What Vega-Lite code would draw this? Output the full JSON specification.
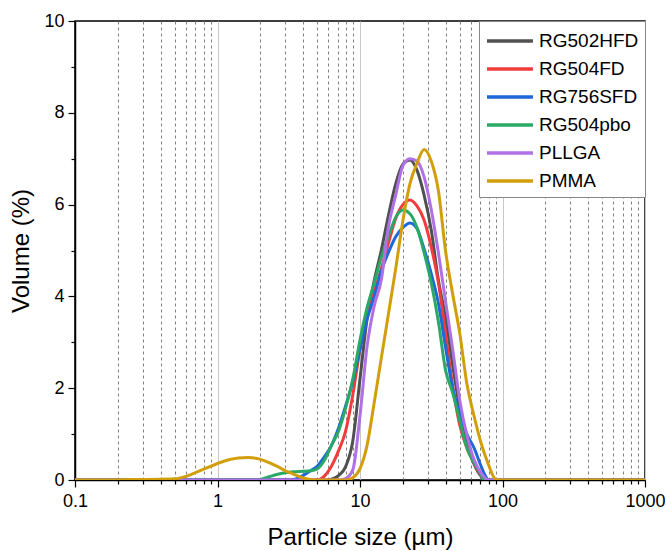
{
  "$schema": "https://vega.github.io/schema/vega-lite/v6.json",
  "width": 570,
  "height": 459,
  "autosize": {"type": "none"},
  "padding": {"left": 75, "top": 21, "right": 21, "bottom": 71},
  "background": "white",
  "config": {
    "view": {"stroke": "black", "strokeWidth": 1.5},
    "font": "Liberation Sans",
    "axis": {
      "domainColor": "black",
      "domainWidth": 1.5,
      "tickColor": "black",
      "tickWidth": 1.2,
      "labelFont": "Liberation Sans",
      "labelFontSize": 18,
      "labelColor": "black",
      "titleFont": "Liberation Sans",
      "titleFontSize": 24,
      "titleFontWeight": "normal",
      "titleColor": "black"
    },
    "legend": {
      "labelFont": "Liberation Sans",
      "labelFontSize": 19,
      "labelColor": "black"
    }
  },
  "data": {
    "values": [
      {"series": "RG502HFD", "size": 0.1, "vol": 0},
      {"series": "RG502HFD", "size": 5.6, "vol": 0},
      {"series": "RG502HFD", "size": 6.3, "vol": 0.02},
      {"series": "RG502HFD", "size": 7.1, "vol": 0.1},
      {"series": "RG502HFD", "size": 7.9, "vol": 0.28},
      {"series": "RG502HFD", "size": 8.9, "vol": 0.85},
      {"series": "RG502HFD", "size": 10, "vol": 2.2},
      {"series": "RG502HFD", "size": 11.2, "vol": 3.5},
      {"series": "RG502HFD", "size": 12.6, "vol": 4.35},
      {"series": "RG502HFD", "size": 14.1, "vol": 5.0},
      {"series": "RG502HFD", "size": 15.8, "vol": 5.75},
      {"series": "RG502HFD", "size": 17.8, "vol": 6.45},
      {"series": "RG502HFD", "size": 20, "vol": 6.88},
      {"series": "RG502HFD", "size": 22.4, "vol": 6.97},
      {"series": "RG502HFD", "size": 25.1, "vol": 6.75},
      {"series": "RG502HFD", "size": 28.2, "vol": 6.2},
      {"series": "RG502HFD", "size": 31.6, "vol": 5.45},
      {"series": "RG502HFD", "size": 35.5, "vol": 4.35},
      {"series": "RG502HFD", "size": 39.8, "vol": 3.55},
      {"series": "RG502HFD", "size": 44.7, "vol": 2.5},
      {"series": "RG502HFD", "size": 50.1, "vol": 1.55},
      {"series": "RG502HFD", "size": 56.2, "vol": 0.78},
      {"series": "RG502HFD", "size": 63.1, "vol": 0.35},
      {"series": "RG502HFD", "size": 70.8, "vol": 0.08},
      {"series": "RG502HFD", "size": 79.4, "vol": 0},
      {"series": "RG502HFD", "size": 1000, "vol": 0},

      {"series": "RG504FD", "size": 0.1, "vol": 0},
      {"series": "RG504FD", "size": 5.0, "vol": 0},
      {"series": "RG504FD", "size": 5.6, "vol": 0.08},
      {"series": "RG504FD", "size": 6.3, "vol": 0.3},
      {"series": "RG504FD", "size": 7.1, "vol": 0.65},
      {"series": "RG504FD", "size": 7.9, "vol": 1.05},
      {"series": "RG504FD", "size": 8.9, "vol": 1.85},
      {"series": "RG504FD", "size": 10, "vol": 2.85},
      {"series": "RG504FD", "size": 11.2, "vol": 3.6},
      {"series": "RG504FD", "size": 12.6, "vol": 4.1},
      {"series": "RG504FD", "size": 14.1, "vol": 4.6},
      {"series": "RG504FD", "size": 15.8, "vol": 5.15},
      {"series": "RG504FD", "size": 17.8, "vol": 5.7},
      {"series": "RG504FD", "size": 20, "vol": 6.0},
      {"series": "RG504FD", "size": 22.4, "vol": 6.1},
      {"series": "RG504FD", "size": 25.1, "vol": 5.97},
      {"series": "RG504FD", "size": 28.2, "vol": 5.66},
      {"series": "RG504FD", "size": 31.6, "vol": 5.08},
      {"series": "RG504FD", "size": 35.5, "vol": 4.3},
      {"series": "RG504FD", "size": 39.8, "vol": 3.2},
      {"series": "RG504FD", "size": 44.7, "vol": 2.05},
      {"series": "RG504FD", "size": 50.1, "vol": 1.2},
      {"series": "RG504FD", "size": 56.2, "vol": 0.7},
      {"series": "RG504FD", "size": 63.1, "vol": 0.38},
      {"series": "RG504FD", "size": 70.8, "vol": 0.1},
      {"series": "RG504FD", "size": 77, "vol": 0},
      {"series": "RG504FD", "size": 1000, "vol": 0},

      {"series": "RG756SFD", "size": 0.1, "vol": 0},
      {"series": "RG756SFD", "size": 3.2, "vol": 0},
      {"series": "RG756SFD", "size": 3.6, "vol": 0.03},
      {"series": "RG756SFD", "size": 4.0, "vol": 0.1},
      {"series": "RG756SFD", "size": 4.5, "vol": 0.2},
      {"series": "RG756SFD", "size": 5.0, "vol": 0.3},
      {"series": "RG756SFD", "size": 5.6, "vol": 0.5},
      {"series": "RG756SFD", "size": 6.3, "vol": 0.75},
      {"series": "RG756SFD", "size": 7.1, "vol": 1.15},
      {"series": "RG756SFD", "size": 7.9, "vol": 1.6},
      {"series": "RG756SFD", "size": 8.9, "vol": 2.15},
      {"series": "RG756SFD", "size": 10, "vol": 2.85},
      {"series": "RG756SFD", "size": 11.2, "vol": 3.5},
      {"series": "RG756SFD", "size": 12.6, "vol": 4.0},
      {"series": "RG756SFD", "size": 14.1, "vol": 4.55},
      {"series": "RG756SFD", "size": 15.8, "vol": 4.95},
      {"series": "RG756SFD", "size": 17.8, "vol": 5.3},
      {"series": "RG756SFD", "size": 20, "vol": 5.5},
      {"series": "RG756SFD", "size": 22.4, "vol": 5.6},
      {"series": "RG756SFD", "size": 25.1, "vol": 5.48},
      {"series": "RG756SFD", "size": 28.2, "vol": 5.03},
      {"series": "RG756SFD", "size": 31.6, "vol": 4.5},
      {"series": "RG756SFD", "size": 35.5, "vol": 3.85},
      {"series": "RG756SFD", "size": 39.8, "vol": 2.9},
      {"series": "RG756SFD", "size": 44.7, "vol": 2.0},
      {"series": "RG756SFD", "size": 50.1, "vol": 1.45},
      {"series": "RG756SFD", "size": 56.2, "vol": 1.0},
      {"series": "RG756SFD", "size": 63.1, "vol": 0.7},
      {"series": "RG756SFD", "size": 70.8, "vol": 0.3},
      {"series": "RG756SFD", "size": 75, "vol": 0.12},
      {"series": "RG756SFD", "size": 80, "vol": 0},
      {"series": "RG756SFD", "size": 1000, "vol": 0},

      {"series": "RG504pbo", "size": 0.1, "vol": 0},
      {"series": "RG504pbo", "size": 1.9, "vol": 0},
      {"series": "RG504pbo", "size": 2.3, "vol": 0.07},
      {"series": "RG504pbo", "size": 2.6, "vol": 0.12},
      {"series": "RG504pbo", "size": 3.0, "vol": 0.16},
      {"series": "RG504pbo", "size": 3.4, "vol": 0.18},
      {"series": "RG504pbo", "size": 4.0, "vol": 0.19},
      {"series": "RG504pbo", "size": 4.5, "vol": 0.2},
      {"series": "RG504pbo", "size": 5.0, "vol": 0.24},
      {"series": "RG504pbo", "size": 5.6, "vol": 0.42},
      {"series": "RG504pbo", "size": 6.3, "vol": 0.75},
      {"series": "RG504pbo", "size": 7.1, "vol": 1.08},
      {"series": "RG504pbo", "size": 7.9, "vol": 1.55},
      {"series": "RG504pbo", "size": 8.9, "vol": 2.2},
      {"series": "RG504pbo", "size": 10, "vol": 3.05},
      {"series": "RG504pbo", "size": 11.2, "vol": 3.75},
      {"series": "RG504pbo", "size": 12.6, "vol": 4.3},
      {"series": "RG504pbo", "size": 14.1, "vol": 4.85},
      {"series": "RG504pbo", "size": 15.8, "vol": 5.3},
      {"series": "RG504pbo", "size": 17.8, "vol": 5.72},
      {"series": "RG504pbo", "size": 20, "vol": 5.88},
      {"series": "RG504pbo", "size": 22.4, "vol": 5.8},
      {"series": "RG504pbo", "size": 25.1, "vol": 5.5},
      {"series": "RG504pbo", "size": 28.2, "vol": 4.95},
      {"series": "RG504pbo", "size": 31.6, "vol": 4.3},
      {"series": "RG504pbo", "size": 35.5, "vol": 3.45},
      {"series": "RG504pbo", "size": 39.8, "vol": 2.4},
      {"series": "RG504pbo", "size": 44.7, "vol": 1.9},
      {"series": "RG504pbo", "size": 50.1, "vol": 1.3},
      {"series": "RG504pbo", "size": 56.2, "vol": 0.7},
      {"series": "RG504pbo", "size": 63.1, "vol": 0.38},
      {"series": "RG504pbo", "size": 70.8, "vol": 0.12},
      {"series": "RG504pbo", "size": 74, "vol": 0},
      {"series": "RG504pbo", "size": 1000, "vol": 0},

      {"series": "PLLGA", "size": 0.1, "vol": 0},
      {"series": "PLLGA", "size": 7.1, "vol": 0},
      {"series": "PLLGA", "size": 7.9, "vol": 0.03},
      {"series": "PLLGA", "size": 8.9, "vol": 0.22},
      {"series": "PLLGA", "size": 10, "vol": 1.4},
      {"series": "PLLGA", "size": 11.2, "vol": 2.9},
      {"series": "PLLGA", "size": 12.6, "vol": 3.8},
      {"series": "PLLGA", "size": 14.1, "vol": 4.35},
      {"series": "PLLGA", "size": 15.8, "vol": 5.5},
      {"series": "PLLGA", "size": 17.8, "vol": 6.2},
      {"series": "PLLGA", "size": 20, "vol": 6.85},
      {"series": "PLLGA", "size": 22.4, "vol": 7.0},
      {"series": "PLLGA", "size": 25.1, "vol": 6.95},
      {"series": "PLLGA", "size": 28.2, "vol": 6.6},
      {"series": "PLLGA", "size": 31.6, "vol": 5.9},
      {"series": "PLLGA", "size": 35.5, "vol": 4.95},
      {"series": "PLLGA", "size": 39.8, "vol": 3.9},
      {"series": "PLLGA", "size": 44.7, "vol": 2.85},
      {"series": "PLLGA", "size": 50.1, "vol": 1.74},
      {"series": "PLLGA", "size": 56.2, "vol": 0.98},
      {"series": "PLLGA", "size": 63.1, "vol": 0.45},
      {"series": "PLLGA", "size": 70.8, "vol": 0.15},
      {"series": "PLLGA", "size": 79.4, "vol": 0},
      {"series": "PLLGA", "size": 1000, "vol": 0},

      {"series": "PMMA", "size": 0.1, "vol": 0},
      {"series": "PMMA", "size": 0.18, "vol": 0},
      {"series": "PMMA", "size": 0.25, "vol": 0.01},
      {"series": "PMMA", "size": 0.4, "vol": 0.015},
      {"series": "PMMA", "size": 0.5, "vol": 0.025},
      {"series": "PMMA", "size": 0.6, "vol": 0.08},
      {"series": "PMMA", "size": 0.7, "vol": 0.16},
      {"series": "PMMA", "size": 0.85, "vol": 0.27},
      {"series": "PMMA", "size": 1.0, "vol": 0.36},
      {"series": "PMMA", "size": 1.2, "vol": 0.44},
      {"series": "PMMA", "size": 1.4, "vol": 0.48},
      {"series": "PMMA", "size": 1.65, "vol": 0.49},
      {"series": "PMMA", "size": 2.0, "vol": 0.45},
      {"series": "PMMA", "size": 2.3, "vol": 0.38},
      {"series": "PMMA", "size": 2.65, "vol": 0.29},
      {"series": "PMMA", "size": 3.0, "vol": 0.2},
      {"series": "PMMA", "size": 3.4, "vol": 0.13},
      {"series": "PMMA", "size": 3.85, "vol": 0.06},
      {"series": "PMMA", "size": 4.3, "vol": 0.02},
      {"series": "PMMA", "size": 4.8, "vol": 0},
      {"series": "PMMA", "size": 8.0, "vol": 0},
      {"series": "PMMA", "size": 8.9, "vol": 0.05},
      {"series": "PMMA", "size": 10, "vol": 0.25},
      {"series": "PMMA", "size": 11.2, "vol": 0.75},
      {"series": "PMMA", "size": 12.6, "vol": 1.7},
      {"series": "PMMA", "size": 14.1, "vol": 2.65},
      {"series": "PMMA", "size": 15.8, "vol": 3.6},
      {"series": "PMMA", "size": 17.8, "vol": 4.6},
      {"series": "PMMA", "size": 20, "vol": 5.65},
      {"series": "PMMA", "size": 22.4, "vol": 6.45},
      {"series": "PMMA", "size": 25.1, "vol": 6.9},
      {"series": "PMMA", "size": 28.2, "vol": 7.2},
      {"series": "PMMA", "size": 31.6, "vol": 6.95},
      {"series": "PMMA", "size": 35.5, "vol": 6.3},
      {"series": "PMMA", "size": 39.8, "vol": 5.0},
      {"series": "PMMA", "size": 44.7, "vol": 4.05},
      {"series": "PMMA", "size": 50.1, "vol": 3.2},
      {"series": "PMMA", "size": 56.2, "vol": 2.1},
      {"series": "PMMA", "size": 63.1, "vol": 1.4},
      {"series": "PMMA", "size": 70.8, "vol": 0.8},
      {"series": "PMMA", "size": 79.4, "vol": 0.35},
      {"series": "PMMA", "size": 89.1, "vol": 0.02},
      {"series": "PMMA", "size": 95, "vol": 0},
      {"series": "PMMA", "size": 1000, "vol": 0}
    ]
  },
  "mark": {"type": "line", "strokeWidth": 3, "interpolate": "monotone", "clip": true},
  "encoding": {
    "x": {
      "field": "size",
      "type": "quantitative",
      "scale": {"type": "log", "domain": [0.1, 1000], "nice": false},
      "axis": {
        "title": "Particle size (µm)",
        "titlePadding": 15,
        "values": [0.1,0.2,0.3,0.4,0.5,0.6,0.7,0.8,0.9,1,2,3,4,5,6,7,8,9,10,20,30,40,50,60,70,80,90,100,200,300,400,500,600,700,800,900,1000],
        "labelExpr": "indexof([0.1,1,10,100,1000], datum.value) >= 0 ? format(datum.value, '~g') : ''",
        "labelPadding": 5,
        "labelFlush": false,
        "labelOverlap": false,
        "tickSize": {"condition": {"test": "indexof([0.1,1,10,100,1000], datum.value) >= 0", "value": 7}, "value": 4},
        "grid": true,
        "gridColor": {"condition": {"test": "indexof([0.1,1,10,100,1000], datum.value) >= 0", "value": "#c8c8c8"}, "value": "#808080"},
        "gridDash": {"condition": {"test": "indexof([0.1,1,10,100,1000], datum.value) >= 0", "value": []}, "value": [3, 3]},
        "gridWidth": 1
      }
    },
    "y": {
      "field": "vol",
      "type": "quantitative",
      "scale": {"domain": [0, 10], "nice": false},
      "axis": {
        "title": "Volume (%)",
        "titlePadding": 10,
        "values": [0,1,2,3,4,5,6,7,8,9,10],
        "labelExpr": "datum.value % 2 == 0 ? format(datum.value, 'd') : ''",
        "tickSize": {"condition": {"test": "datum.value % 2 == 0", "value": 7}, "value": 4},
        "labelPadding": 4,
        "labelFlush": false,
        "grid": false
      }
    },
    "color": {
      "field": "series",
      "type": "nominal",
      "sort": ["RG502HFD", "RG504FD", "RG756SFD", "RG504pbo", "PLLGA", "PMMA"],
      "scale": {
        "domain": ["RG502HFD", "RG504FD", "RG756SFD", "RG504pbo", "PLLGA", "PMMA"],
        "range": ["#505050", "#f03c3c", "#1f68d8", "#2aa866", "#b070e6", "#d29e0c"]
      },
      "legend": {
        "title": null,
        "orient": "top-right",
        "offset": 0,
        "symbolType": "M-1,0H2.83",
        "symbolSize": 576,
        "symbolStrokeWidth": 3.5,
        "symbolFillColor": "transparent",
        "labelOffset": 26,
        "rowPadding": 4,
        "padding": 6,
        "strokeColor": "#888888",
        "fillColor": "white"
      }
    }
  }
}
